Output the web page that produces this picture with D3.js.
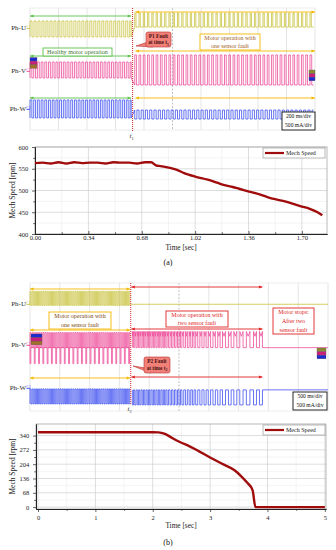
<!DOCTYPE html>
<html><head><meta charset="utf-8">
<script src="https://cdn.jsdelivr.net/npm/d3@7"></script>
<style>
body{margin:0;background:#fff}
svg{display:block;font-family:"Liberation Serif","DejaVu Serif",serif}
</style>
</head><body>
<svg id="fig" width="336" height="550"></svg>
<script>
// ---------- scope (a): 200 ms/div, 10 div ----------
const scopeASpan = [0, 2.0];
const faultTimeA = 0.72;
// segments: [tStart, tEnd, period (s), peak (div), base (div), duty]
const phUA = [[0, 0.71, 0.028, 7.15, 6.1, 0.5], [0.735, 1.99, 0.03, 7.67, 6.75, 0.3]];
const phVA = [[0, 0.71, 0.026, 4.46, 3.41, 0.5], [0.735, 1.99, 0.03, 4.92, 2.95, 0.4]];
const phWA = [[0, 0.71, 0.026, 1.97, 0.79, 0.5], [0.735, 1.99, 0.03, 0.72, 1.31, 0.5]];

// ---------- scope (b): 500 ms/div, 10 div ----------
const scopeBSpan = [0, 5.0];
const faultTimeB = 1.69;
const stopTimeB = 3.9;
const phUB = [[0, 1.68, 0.036, 7.48, 6.6, 0.5], [1.7, 5.0, 0, 6.67, 6.67, 0]];
const phVB = [[0, 1.68, 0.036, 4.9, 3.96, 0.5]];
const phVBSpikes = [[0, 1.68, 0.072, 2.96, 3.96, 0.2]];
const phWB = [[0, 1.68, 0.036, 1.38, 0.44, 0.5]];
// pulse start times after the second fault (s)
const pulsesB = [1.717, 1.758, 1.8, 1.842, 1.883, 1.925, 1.967, 2.008, 2.05, 2.092, 2.133, 2.175,
  2.217, 2.258, 2.3, 2.35, 2.4, 2.45, 2.5, 2.55, 2.61, 2.67, 2.725, 2.78, 2.85, 2.92, 2.99,
  3.07, 3.15, 3.23, 3.33, 3.42, 3.52, 3.63, 3.75, 3.85];
const levelsVB = [3.96, 4.97];   // base, peak
const levelsWB = [1.32, 0.38];

// ---------- speed (a) ----------
const speedATime = [0, 0.05, 0.1, 0.15, 0.2, 0.25, 0.3, 0.35, 0.4, 0.45, 0.5, 0.55, 0.6, 0.65, 0.7, 0.74,
  0.77, 0.8, 0.86, 0.9, 0.95, 1.02, 1.1, 1.16, 1.2, 1.26, 1.3, 1.37, 1.43, 1.48, 1.53, 1.58, 1.64, 1.69,
  1.75, 1.8, 1.83];
const speedAVal = [563, 564, 562, 565, 562, 565, 563, 564, 564, 562, 565, 564, 564, 562, 565, 565,
  558, 556, 552, 548, 540, 532, 525, 518, 513, 508, 504, 497, 491, 485, 480, 476, 470, 464,
  458, 450, 443];
const speedATicks = [0, 0.34, 0.68, 1.02, 1.36, 1.70];
const speedAYTicks = [400, 450, 500, 550, 600];

// ---------- speed (b) ----------
const speedBTime = [0, 0.5, 1, 1.5, 2, 2.1, 2.2, 2.3, 2.4, 2.5, 2.6, 2.8, 3.0, 3.2, 3.42, 3.53, 3.64, 3.74, 3.79, 4.0, 4.5, 5.0];
const speedBVal = [356, 356, 356, 356, 356, 355, 349, 335, 319, 306, 295, 266, 236, 207, 176, 150, 118, 81, 0, 0, 0, 0];
const speedBTicks = [0, 1, 2, 3, 4, 5];
const speedBYTicks = [0, 68, 136, 204, 272, 340];

const C = {
  yel: '#c9c33f', pink: '#ee4f9b', blue: '#4050f0',
  green: '#5cc24a', orange: '#f5b800', red: '#e02424', speed: '#a00c0c'
};

const svg = d3.select('#fig');
svg.append('rect').attr('width', 336).attr('height', 550).attr('fill', '#fff');

// expand segments into step points
function steps(segs) {
  const pts = [];
  segs.forEach(([t0, t1, p, peak, base, duty]) => {
    if (!p) { pts.push([t0, base], [t1, base]); return; }
    for (let t = t0; t < t1 - 1e-9; t += p) {
      const te = Math.min(t + duty * p, t1);
      pts.push([t, base], [t, peak], [te, peak], [te, base]);
    }
    pts.push([t1, base]);
  });
  return pts;
}

function pulsesAfter(times, base, peak, dip, tEnd) {
  const pts = [];
  times.forEach((t, i) => {
    const gap = i < times.length - 1 ? times[i + 1] - t : t - times[i - 1];
    const w = gap * 0.5;
    pts.push([t, base], [t, peak], [t + w / 2, peak + dip], [t + w, peak], [t + w, base]);
  });
  pts.push([tEnd, base]);
  return pts;
}

function arrow(g, x1, x2, y, color) {
  g.append('line').attr('x1', x1).attr('x2', x2).attr('y1', y).attr('y2', y)
    .attr('stroke', color).attr('stroke-width', 0.9);
  g.append('path').attr('d', `M${x1},${y}l3.5,-1.6v3.2z`).attr('fill', color);
  g.append('path').attr('d', `M${x2},${y}l-3.5,-1.6v3.2z`).attr('fill', color);
}

function labelBox(g, x, y, w, h, lines, stroke, fill, color, fs) {
  g.append('rect').attr('x', x).attr('y', y).attr('width', w).attr('height', h)
    .attr('fill', fill).attr('stroke', stroke).attr('stroke-width', 0.9);
  const lh = h / lines.length;
  lines.forEach((t, i) => {
    g.append('text').attr('x', x + w / 2).attr('y', y + lh * i + lh / 2 + fs * 0.35)
      .attr('text-anchor', 'middle').attr('font-size', fs).attr('fill', color).text(t);
  });
}

function callout(g, x, y, w, h, tip, name, sub) {
  g.append('path')
    .attr('d', `M${x + 2},${y + h - 5}L${tip[0]},${tip[1]}L${x + 7},${y + h}z`)
    .attr('fill', '#f08078').attr('stroke', '#b83030').attr('stroke-width', 0.6);
  g.append('rect').attr('x', x).attr('y', y).attr('width', w).attr('height', h).attr('rx', 2)
    .attr('fill', '#f08078').attr('stroke', '#b83030').attr('stroke-width', 0.6);
  g.append('text').attr('x', x + w / 2).attr('y', y + h * 0.38).attr('text-anchor', 'middle')
    .attr('font-size', 5.3).attr('font-weight', 'bold').attr('fill', '#4a1010').text(name);
  const t = g.append('text').attr('x', x + w / 2).attr('y', y + h * 0.82).attr('text-anchor', 'middle')
    .attr('font-size', 5.3).attr('font-weight', 'bold').attr('fill', '#4a1010');
  t.append('tspan').text('at time t');
  t.append('tspan').attr('font-size', 3.8).attr('dy', 1.2).text(sub);
}

function scopeFrame(g, x, y, left, right, top, bottom) {
  g.selectAll('line.grid').data(x.ticks(10)).join('line').attr('class', 'grid')
    .attr('x1', d => x(d)).attr('x2', d => x(d)).attr('y1', top).attr('y2', bottom)
    .attr('stroke', (d, i) => i === 5 ? '#b0b0b0' : '#dedede')
    .attr('stroke-dasharray', (d, i) => i === 5 ? '2,1.5' : null)
    .attr('stroke-width', 0.8);
  [top, bottom].forEach(yy => g.append('line').attr('x1', left).attr('x2', right)
    .attr('y1', yy).attr('y2', yy).attr('stroke', '#e8e8e8').attr('stroke-width', 0.8));
}

function trace(g, x, y, pts, color) {
  g.append('path').attr('d', d3.line().x(d => x(d[0])).y(d => y(d[1]))(pts))
    .attr('fill', 'none').attr('stroke', color).attr('stroke-width', 0.8);
}

function phLabel(g, yy, name, ch, color) {
  g.append('text').attr('x', 26).attr('y', yy + 2.3).attr('text-anchor', 'end')
    .attr('font-size', 7).attr('fill', '#2a2a2a').text(name);
  g.append('text').attr('x', 26.3).attr('y', yy - 0.5).attr('font-size', 3.6).attr('fill', color).text(ch);
  g.append('line').attr('x1', 26.5).attr('x2', 30).attr('y1', yy + 0.5).attr('y2', yy + 0.5)
    .attr('stroke', color).attr('stroke-width', 0.8);
}

function chips(g, x, y0, w, cols) {
  cols.forEach((c, i) => g.append('rect').attr('x', x).attr('y', y0 + i * 3.6)
    .attr('width', w).attr('height', 3.6).attr('fill', c).attr('stroke', '#555').attr('stroke-width', 0.3));
}

// ================= scope (a) =================
{
  const g = svg.append('g');
  const x = d3.scaleLinear().domain(scopeASpan).range([30, 315]);
  const y = d3.scaleLinear().domain([0, 8]).range([130, 8]);
  scopeFrame(g, x, y, 30, 315, 8, 130);

  trace(g, x, y, steps(phUA), C.yel);
  trace(g, x, y, steps(phVA), C.pink);
  trace(g, x, y, steps(phWA), C.blue);

  phLabel(g, 28, 'Ph-U', 'C1', C.yel);
  phLabel(g, 71, 'Ph-V', 'C2', C.pink);
  phLabel(g, 109, 'Ph-W', 'C3', C.blue);
  chips(g, 30, 57.5, 7, ['#1c2ad0', '#c8207a', '#a0702a']);
  chips(g, 309, 70, 6, ['#8a8a30', '#c8207a', '#1c2ad0']);

  arrow(g, x(0), x(0.71), 16, C.green);
  arrow(g, x(0.74), x(2.0), 12, C.orange);
  arrow(g, x(0.74), x(2.0), 51, C.orange);
  arrow(g, x(0), x(0.71), 56, C.green);
  arrow(g, x(0), x(0.71), 98, C.green);
  arrow(g, x(0.74), x(2.0), 98, C.orange);

  labelBox(g, 200, 34, 60, 16, ['Motor operation with', 'one sensor fault'], C.orange, '#fff', '#a0601c', 6);
  labelBox(g, 43, 48, 69, 8, ['Healthy motor operation'], C.green, '#fff', '#3c7a30', 6.2);
  callout(g, 146, 32, 25, 15, [136, 46], 'P1 Fault', '1');
  labelBox(g, 282, 112, 33, 18, ['200 ms/div', '500 mA/div'], '#111', '#fff', '#111', 5.6);

  g.append('line').attr('x1', x(faultTimeA)).attr('x2', x(faultTimeA)).attr('y1', 8).attr('y2', 131)
    .attr('stroke', '#d02828').attr('stroke-width', 1).attr('stroke-dasharray', '1,1');
  const t = g.append('text').attr('x', x(faultTimeA) - 1).attr('y', 138).attr('font-size', 7)
    .attr('text-anchor', 'middle').attr('fill', '#333');
  t.append('tspan').attr('font-style', 'italic').text('t');
  t.append('tspan').attr('font-size', 4.5).attr('dy', 1.5).text('1');
}

// ================= scope (b) =================
{
  const g = svg.append('g');
  const x = d3.scaleLinear().domain(scopeBSpan).range([30, 328]);
  const y = d3.scaleLinear().domain([0, 8]).range([411, 283]);
  scopeFrame(g, x, y, 30, 328, 283, 411);

  trace(g, x, y, steps(phUB), C.yel);
  trace(g, x, y, steps(phVBSpikes), C.pink);
  trace(g, x, y, steps(phVB), C.pink);
  trace(g, x, y, pulsesAfter(pulsesB, levelsVB[0], levelsVB[1], -0.3, 5.0), C.pink);
  trace(g, x, y, steps(phWB), C.blue);
  trace(g, x, y, pulsesAfter(pulsesB, levelsWB[0], levelsWB[1], 0, 5.0), C.blue);

  phLabel(g, 304, 'Ph-U', 'C1', C.yel);
  phLabel(g, 345, 'Ph-V', 'C2', C.pink);
  phLabel(g, 388, 'Ph-W', 'C3', C.blue);
  chips(g, 31, 334, 11, ['#1c2ad0', '#c8207a', '#a0702a']);
  chips(g, 317, 348, 9, ['#8a8a30', '#c8207a', '#1c2ad0']);

  arrow(g, x(0), x(1.68), 289, C.orange);
  arrow(g, x(1.7), x(stopTimeB), 287, C.red);
  arrow(g, x(0), x(1.68), 330, C.orange);
  arrow(g, x(1.7), x(stopTimeB), 329, C.red);
  arrow(g, x(0), x(1.68), 378, C.orange);
  arrow(g, x(1.7), x(stopTimeB), 377, C.red);

  labelBox(g, 49, 312, 62, 17, ['Motor operation with', 'one sensor fault'], C.orange, '#fff', '#7a4a10', 6);
  labelBox(g, 166, 311, 62, 16, ['Motor operation with', 'two sensor fault'], C.red, '#fff', C.red, 6);
  labelBox(g, 273, 308, 41, 26, ['Motor stops:', 'After two', 'sensor fault'], C.red, '#fff', C.red, 6);
  callout(g, 144, 357, 26, 16, [133, 366], 'P2 Fault', '2');
  labelBox(g, 293, 392, 34, 18, ['500 ms/div', '500 mA/div'], '#111', '#fff', '#111', 5.6);

  g.append('line').attr('x1', x(faultTimeB)).attr('x2', x(faultTimeB)).attr('y1', 283).attr('y2', 405)
    .attr('stroke', '#d02828').attr('stroke-width', 1).attr('stroke-dasharray', '1,1');
  const t = g.append('text').attr('x', x(faultTimeB) - 1).attr('y', 411).attr('font-size', 7)
    .attr('text-anchor', 'middle').attr('fill', '#333');
  t.append('tspan').attr('font-style', 'italic').text('t');
  t.append('tspan').attr('font-size', 4.5).attr('dy', 1.5).text('2');
}

// ================= speed plots =================
function speedPlot(o) {
  const g = svg.append('g');
  const {x, y, time, val, xticks, yticks, xminor, yminor, fmt, cap, capY, xTick, xPad, titleGap} = o;
  const [l, r] = x.range(), [b, t] = y.range();

  g.selectAll('line.vmin').data(xminor).join('line').attr('class', 'vmin')
    .attr('x1', d => x(d)).attr('x2', d => x(d)).attr('y1', t).attr('y2', b)
    .attr('stroke', '#ececec').attr('stroke-width', 0.6);
  g.selectAll('line.hmin').data(yminor).join('line').attr('class', 'hmin')
    .attr('x1', l).attr('x2', r).attr('y1', d => y(d)).attr('y2', d => y(d))
    .attr('stroke', '#ececec').attr('stroke-width', 0.6);
  g.selectAll('line.vmaj').data(xticks).join('line').attr('class', 'vmaj')
    .attr('x1', d => x(d)).attr('x2', d => x(d)).attr('y1', t).attr('y2', b)
    .attr('stroke', '#cfcfcf').attr('stroke-width', 0.7);
  g.selectAll('line.hmaj').data(yticks).join('line').attr('class', 'hmaj')
    .attr('x1', l).attr('x2', r).attr('y1', d => y(d)).attr('y2', d => y(d))
    .attr('stroke', '#cfcfcf').attr('stroke-width', 0.7);
  g.append('rect').attr('x', l).attr('y', t).attr('width', r - l).attr('height', b - t)
    .attr('fill', 'none').attr('stroke', '#9a9a9a').attr('stroke-width', 0.7);

  g.append('g').attr('transform', `translate(0,${b})`)
    .call(d3.axisBottom(x).tickValues(xticks).tickSize(xTick).tickPadding(xPad).tickSizeOuter(0).tickFormat(fmt));
  g.append('g').attr('transform', `translate(0,${b})`)
    .call(d3.axisBottom(x).tickValues(xminor).tickSize(xTick * 0.6).tickSizeOuter(0).tickFormat(''));
  const ay = g.append('g').attr('transform', `translate(${l},0)`)
    .call(d3.axisLeft(y).tickValues(yticks).tickSize(3).tickSizeOuter(0));
  g.append('g').attr('transform', `translate(${l},0)`)
    .call(d3.axisLeft(y).tickValues(yminor).tickSize(1.8).tickSizeOuter(0).tickFormat(''));
  g.selectAll('.domain').attr('stroke', '#222').attr('stroke-width', 0.9);
  g.selectAll('.tick line').attr('stroke', '#222').attr('stroke-width', 0.7);
  g.selectAll('.tick text').attr('font-size', 6.5).attr('fill', '#222')
    .attr('font-family', '"Liberation Serif", serif');
  ay.selectAll('.tick text').attr('dx', '-0.1em');

  g.append('path').attr('d', d3.line().curve(d3.curveMonotoneX).x((d, i) => x(time[i])).y(d => y(d))(val))
    .attr('fill', 'none').attr('stroke', C.speed).attr('stroke-width', 2.4)
    .attr('stroke-linejoin', 'round');

  // legend
  g.append('rect').attr('x', 263).attr('y', t + 1).attr('width', 62).attr('height', 10)
    .attr('fill', '#fff').attr('stroke', '#8a8a8a').attr('stroke-width', 0.6);
  g.append('line').attr('x1', 265).attr('x2', 284).attr('y1', t + 6).attr('y2', t + 6)
    .attr('stroke', C.speed).attr('stroke-width', 2.2);
  g.append('text').attr('x', 286).attr('y', t + 8.2).attr('font-size', 6).attr('fill', '#222').text('Mech Speed');

  g.append('text').attr('x', (l + r) / 2).attr('y', b + titleGap).attr('text-anchor', 'middle')
    .attr('font-size', 7.3).attr('fill', '#222').text('Time [sec]');
  g.append('text').attr('transform', `translate(15,${(t + b) / 2}) rotate(-90)`)
    .attr('text-anchor', 'middle').attr('font-size', 7.5).attr('fill', '#222').text('Mech Speed [rpm]');
  g.append('text').attr('x', 168).attr('y', capY).attr('text-anchor', 'middle')
    .attr('font-size', 8).attr('fill', '#111').text(cap);
}

speedPlot({
  x: d3.scaleLinear().domain([0, 1.86]).range([35, 327]),
  y: d3.scaleLinear().domain([400, 600]).range([234, 147]),
  time: speedATime, val: speedAVal,
  xticks: speedATicks, yticks: speedAYTicks,
  xminor: [0.17, 0.51, 0.85, 1.19, 1.53],
  yminor: [425, 475, 525, 575],
  fmt: d3.format('.2f'), cap: '(a)', capY: 265,
  xTick: -3, xPad: 1.7, titleGap: 15.5
});

speedPlot({
  x: d3.scaleLinear().domain([-0.035, 5.02]).range([36, 326]),
  y: d3.scaleLinear().domain([-9, 395]).range([509, 424]),
  time: speedBTime, val: speedBVal,
  xticks: speedBTicks, yticks: speedBYTicks,
  xminor: [0.5, 1.5, 2.5, 3.5, 4.5],
  yminor: [34, 102, 170, 238, 306],
  fmt: d3.format('d'), cap: '(b)', capY: 545,
  xTick: 3, xPad: 3.7, titleGap: 18.5
});
</script>
</body></html>
